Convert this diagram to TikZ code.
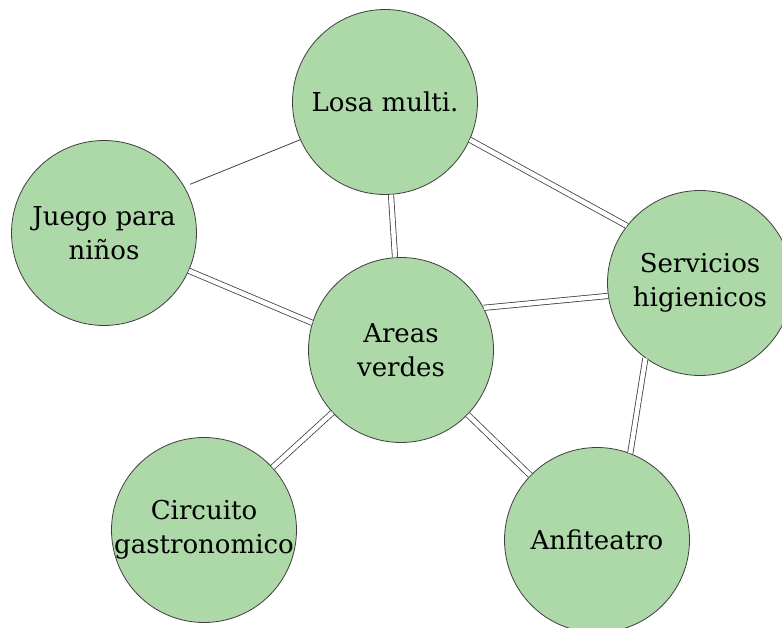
\documentclass[tikz,border=0pt]{standalone}
\usepackage{fontspec}
\setmainfont{DejaVu Serif}
\usetikzlibrary{positioning}
\definecolor{verde}{RGB}{173,216,168}

\begin{document}
\begin{tikzpicture}[x=1pt, y=-1pt,
  zona/.style={circle, draw=black!75, line width=0.8pt, fill=verde, minimum size=185pt,
    inner sep=0pt, align=center, font=\fontsize{26}{34}\selectfont},
  enlace/.style={draw=black!75, line width=0.8pt},
  doble/.style={enlace, double=white, double distance=4.5pt}]
\useasboundingbox (0,0) rectangle (782,628);

\node[zona] (L) at (385,102) {Losa multi.};
\node[zona] (J) at (104,233) {Juego para\\ni\~nos};
\node[zona] (S) at (700,283) {Servicios\\higienicos};
\node[zona] (A) at (401,350) {Areas\\verdes};
\node[zona] (C) at (204,530) {Circuito\\\makebox[0pt]{gastronomico}};
\node[zona] (F) at (597,540) {Anfiteatro};

\draw[enlace, shorten <=6pt] (J.30) -- (L.204);
\draw[doble] (J.336) -- (A.163);
\draw[doble] (L) -- (A);
\draw[doble] (L.336) -- (S.142);
\draw[doble] (A.27) -- (S.188);
\draw[doble] (A) -- (C);
\draw[doble] (A) -- (F);
\draw[doble] (S.234) -- (F.69);
\end{tikzpicture}
\end{document}
